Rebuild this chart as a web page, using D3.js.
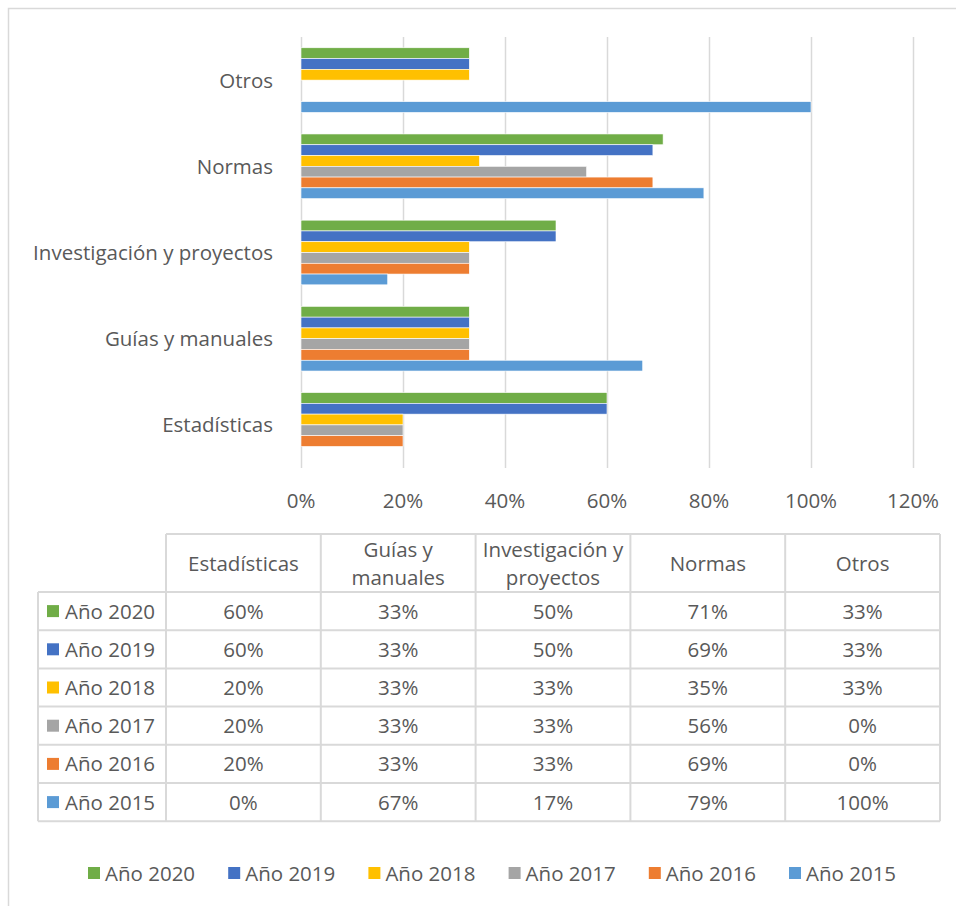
<!DOCTYPE html>
<html>
<head>
<meta charset="utf-8">
<script src="https://cdn.jsdelivr.net/npm/d3@7"></script>
<style>
  body { margin: 0; background: #fff; }
  svg text { font-family: "Open Sans", Lato, sans-serif; fill: #595959; }
</style>
</head>
<body>
<div id="chart"></div>
<script>
// categories (bottom to top on the chart) and series
var categories = ['Estadísticas', 'Guías y manuales', 'Investigación y proyectos', 'Normas', 'Otros']
var headerLines = [['Estadísticas'], ['Guías y', 'manuales'], ['Investigación y', 'proyectos'], ['Normas'], ['Otros']]
var years = ['Año 2020', 'Año 2019', 'Año 2018', 'Año 2017', 'Año 2016', 'Año 2015']
var colors = ['#70AD47', '#4472C4', '#FFC000', '#A5A5A5', '#ED7D31', '#5B9BD5']

// values in % per year, in category order
var y2020 = [60, 33, 50, 71, 33]
var y2019 = [60, 33, 50, 69, 33]
var y2018 = [20, 33, 33, 35, 33]
var y2017 = [20, 33, 33, 56, 0]
var y2016 = [20, 33, 33, 69, 0]
var y2015 = [0, 67, 17, 79, 100]
var series = [y2020, y2019, y2018, y2017, y2016, y2015]

var ticks = [0, 20, 40, 60, 80, 100, 120]

var W = 956, H = 906
var fs = '20.5px'
var base = 7.5 // baseline offset from a row centre
var svg = d3.select('#chart').append('svg')
  .attr('width', W)
  .attr('height', H)

// outer chart border
svg.append('rect')
  .attr('x', 8.5).attr('y', 8.5)
  .attr('width', W + 20).attr('height', H + 20)
  .attr('fill', 'none')
  .attr('stroke', '#d9d9d9')
  .attr('stroke-width', 1.5)

// plot area
var plot = { left: 301, right: 913, top: 37, bottom: 468 }

var x = d3.scaleLinear()
  .domain([0, 120])
  .range([plot.left, plot.right])

// categories from bottom (Estadísticas) to top (Otros)
var yCat = d3.scaleBand()
  .domain(categories.slice().reverse())
  .range([plot.top, plot.bottom])
  .paddingInner(2 / 8)
  .paddingOuter(1 / 8)

var yYear = d3.scaleBand()
  .domain(years)
  .range([0, yCat.bandwidth()])

// gridlines
svg.append('g')
  .attr('class', 'grid')
  .attr('transform', 'translate(0,' + plot.bottom + ')')
  .call(d3.axisBottom(x)
    .tickValues(ticks)
    .tickSize(-(plot.bottom - plot.top))
    .tickFormat(''))
  .call(function(g) {
    g.select('.domain').remove()
    g.selectAll('line').attr('stroke', '#d9d9d9').attr('stroke-width', 1.5)
  })

// x axis labels
svg.append('g')
  .selectAll('text')
  .data(ticks)
  .enter().append('text')
  .attr('x', function(d) { return x(d) })
  .attr('y', 508)
  .attr('text-anchor', 'middle')
  .style('font-size', fs)
  .text(function(d) { return d + '%' })

// bars
var groups = svg.selectAll('.cat')
  .data(categories)
  .enter().append('g')
  .attr('class', 'cat')
  .attr('transform', function(d) { return 'translate(0,' + yCat(d) + ')' })

groups.selectAll('rect')
  .data(function(d, ci) {
    return years.map(function(yr, si) { return { year: yr, value: series[si][ci], color: colors[si] } })
  })
  .enter().append('rect')
  .attr('x', x(0))
  .attr('y', function(d) { return yYear(d.year) })
  .attr('width', function(d) { return x(d.value) - x(0) })
  .attr('height', yYear.bandwidth())
  .attr('fill', function(d) { return d.color })
  .attr('stroke', function(d) { return d.value > 0 ? '#fff' : 'none' })
  .attr('stroke-width', 0.6)

// category labels
svg.append('g')
  .selectAll('text')
  .data(categories)
  .enter().append('text')
  .attr('x', 273)
  .attr('y', function(d) { return yCat(d) + yCat.bandwidth() / 2 + base })
  .attr('text-anchor', 'end')
  .style('font-size', fs)
  .text(function(d) { return d })

// data table
var tbl = { left: 38, first: 166, colW: 154.8, top: 534, headH: 58, rowH: 38.2 }
var tg = svg.append('g').attr('class', 'table')
var lineColor = '#d9d9d9'
var tableRight = tbl.first + tbl.colW * categories.length
var tableBottom = tbl.top + tbl.headH + tbl.rowH * years.length

// horizontal lines
tg.append('line')
  .attr('x1', tbl.first).attr('x2', tableRight)
  .attr('y1', tbl.top).attr('y2', tbl.top)
d3.range(years.length + 1).forEach(function(i) {
  var yy = tbl.top + tbl.headH + i * tbl.rowH
  tg.append('line')
    .attr('x1', tbl.left).attr('x2', tableRight)
    .attr('y1', yy).attr('y2', yy)
})
// vertical lines
tg.append('line')
  .attr('x1', tbl.left).attr('x2', tbl.left)
  .attr('y1', tbl.top + tbl.headH).attr('y2', tableBottom)
d3.range(categories.length + 1).forEach(function(i) {
  var xx = tbl.first + i * tbl.colW
  tg.append('line')
    .attr('x1', xx).attr('x2', xx)
    .attr('y1', tbl.top).attr('y2', tableBottom)
})
tg.selectAll('line').attr('stroke', lineColor).attr('stroke-width', 2)

// header texts
headerLines.forEach(function(lines, ci) {
  var cx = tbl.first + tbl.colW * (ci + 0.5)
  var cy = tbl.top + tbl.headH / 2
  var lh = 28
  lines.forEach(function(l, li) {
    tg.append('text')
      .attr('x', cx)
      .attr('y', cy + (li - (lines.length - 1) / 2) * lh + base)
      .attr('text-anchor', 'middle')
      .style('font-size', fs)
      .text(l)
  })
})

// rows
years.forEach(function(yr, si) {
  var cy = tbl.top + tbl.headH + tbl.rowH * (si + 0.5)
  tg.append('rect')
    .attr('x', 47).attr('y', cy - 6)
    .attr('width', 12).attr('height', 12)
    .attr('fill', colors[si])
  tg.append('text')
    .attr('x', 65).attr('y', cy + base)
    .style('font-size', fs)
    .text(yr)
  series[si].forEach(function(v, ci) {
    tg.append('text')
      .attr('x', tbl.first + tbl.colW * (ci + 0.5))
      .attr('y', cy + base)
      .attr('text-anchor', 'middle')
      .style('font-size', fs)
      .text(v + '%')
  })
})

// legend
var legend = svg.append('g')
  .selectAll('g')
  .data(years)
  .enter().append('g')
  .attr('transform', function(d, i) { return 'translate(' + (88 + i * 140.2) + ',873)' })
legend.append('rect')
  .attr('x', 0).attr('y', -6)
  .attr('width', 12).attr('height', 12)
  .attr('fill', function(d, i) { return colors[i] })
legend.append('text')
  .attr('x', 17).attr('y', base)
  .style('font-size', fs)
  .text(function(d) { return d })
</script>
</body>
</html>
